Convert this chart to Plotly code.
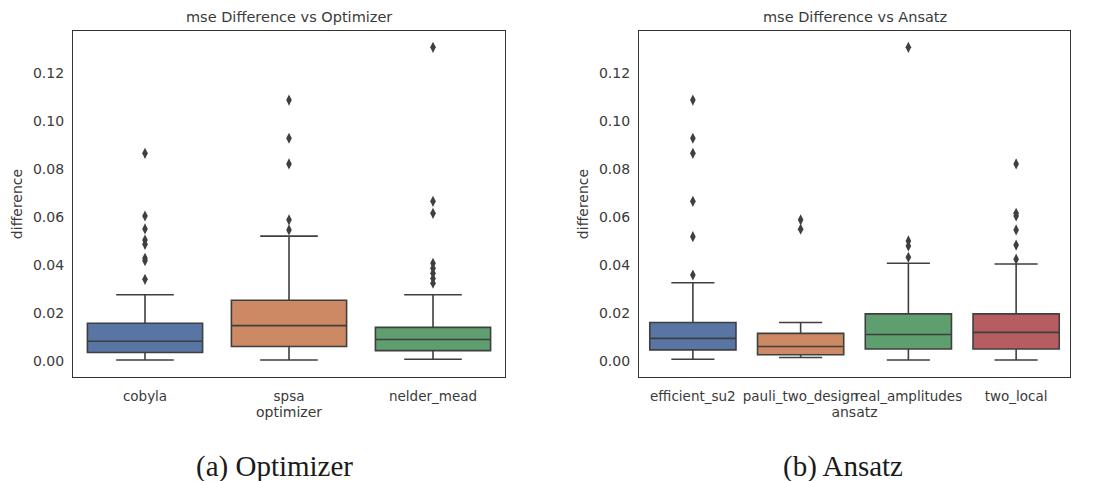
import plotly.graph_objects as go

# ---- data: box statistics (q1, median, q3, whisker ends) and outliers ----
optimizers = ["cobyla", "spsa", "nelder_mead"]
opt_q1 = [0.0035, 0.0060, 0.0043]
opt_median = [0.0082, 0.0147, 0.0089]
opt_q3 = [0.0157, 0.0253, 0.0140]
opt_low = [0.0004, 0.0004, 0.0007]
opt_high = [0.0276, 0.0520, 0.0276]
opt_outliers = [
    [0.0865, 0.0604, 0.0550, 0.0504, 0.0486, 0.0428, 0.0418, 0.0340],
    [0.1087, 0.0928, 0.0821, 0.0588, 0.0546],
    [0.1307, 0.0665, 0.0615, 0.0407, 0.0386, 0.0365, 0.0344, 0.0324],
]

ansatzes = ["efficient_su2", "pauli_two_design", "real_amplitudes", "two_local"]
ans_q1 = [0.0046, 0.0026, 0.0050, 0.0050]
ans_median = [0.0094, 0.0060, 0.0110, 0.0119]
ans_q3 = [0.0160, 0.0115, 0.0196, 0.0196]
ans_low = [0.0007, 0.0014, 0.0004, 0.0004]
ans_high = [0.0326, 0.0160, 0.0407, 0.0404]
ans_outliers = [
    [0.1087, 0.0928, 0.0865, 0.0665, 0.0518, 0.0358],
    [0.0588, 0.0549],
    [0.1307, 0.0500, 0.0479, 0.0432],
    [0.0821, 0.0615, 0.0604, 0.0546, 0.0483, 0.0424],
]

palette = ["#5975a4", "#cc8963", "#5f9e6e", "#b55d60"]
LINE = "#3f3f3f"
FONT = "DejaVu Sans"
TEXT = "#3a3a3a"
FS = 14

fig = go.Figure()


def add_panel(cats, q1, med, q3, lo, hi, outs, xa, ya):
    for i, c in enumerate(cats):
        fig.add_trace(go.Box(
            x=[c], q1=[q1[i]], median=[med[i]], q3=[q3[i]],
            lowerfence=[lo[i]], upperfence=[hi[i]],
            boxpoints=False, width=0.8, whiskerwidth=0.5,
            fillcolor=palette[i], line=dict(color=LINE, width=1.6),
            xaxis=xa, yaxis=ya, showlegend=False, hoverinfo="skip",
        ))
        fig.add_trace(go.Scatter(
            x=[c] * len(outs[i]), y=outs[i], mode="markers",
            marker=dict(symbol="diamond-tall", size=8, color=LINE),
            xaxis=xa, yaxis=ya, showlegend=False, hoverinfo="skip",
        ))


add_panel(optimizers, opt_q1, opt_median, opt_q3, opt_low, opt_high,
          opt_outliers, "x", "y")
add_panel(ansatzes, ans_q1, ans_median, ans_q3, ans_low, ans_high,
          ans_outliers, "x2", "y2")

W, H = 1108, 481
y_dom = [1 - 377 / H, 1 - 31 / H]
frame = dict(showline=True, mirror=True, linecolor="#333333", linewidth=1.3,
             showgrid=False, zeroline=False,
             tickfont=dict(family=FONT, size=FS, color=TEXT))
xtick_font = dict(family=FONT, size=13.5, color=TEXT)
axis_title_font = dict(family=FONT, size=FS, color=TEXT)
yax = dict(frame, range=[-0.0067, 0.1375], tickvals=[0, 0.02, 0.04, 0.06, 0.08, 0.10, 0.12],
           tickformat=".2f", ticks="", ticklabelstandoff=5,
           title=dict(text="difference", font=axis_title_font, standoff=6))

fig.update_layout(
    width=W, height=H, margin=dict(l=0, r=0, t=0, b=0),
    paper_bgcolor="white", plot_bgcolor="white", boxmode="overlay",
    xaxis=dict(frame, domain=[73 / W, 505 / W], range=[-0.5, 2.5], ticks="",
               tickangle=0, ticklabelstandoff=7, tickfont=xtick_font,
               title=dict(text="optimizer", font=axis_title_font, standoff=2)),
    xaxis2=dict(frame, domain=[639 / W, 1070 / W], range=[-0.5, 3.5], ticks="",
                tickangle=0, ticklabelstandoff=7, anchor="y2", tickfont=xtick_font,
                title=dict(text="ansatz", font=axis_title_font, standoff=2)),
    yaxis=dict(yax, domain=y_dom),
    yaxis2=dict(yax, domain=y_dom, anchor="x2"),
)

# panel titles
for cx, txt in [((73 + 505) / 2 / W, "mse Difference vs Optimizer"),
                ((639 + 1070) / 2 / W, "mse Difference vs Ansatz")]:
    fig.add_annotation(x=cx, y=1 - 17 / H, xref="paper", yref="paper",
                       text=txt, showarrow=False, xanchor="center", yanchor="middle",
                       font=dict(family=FONT, size=14.5, color=TEXT))

# sub-figure captions
for lx, txt in [(194 / W, "(a) Optimizer"), (781 / W, "(b) Ansatz")]:
    fig.add_annotation(x=lx, y=1 - 466 / H, xref="paper", yref="paper",
                       text=txt, showarrow=False, xanchor="left", yanchor="middle",
                       font=dict(family="Liberation Serif", size=29, color="#1a1a1a"))

fig.write_html("out.html")
